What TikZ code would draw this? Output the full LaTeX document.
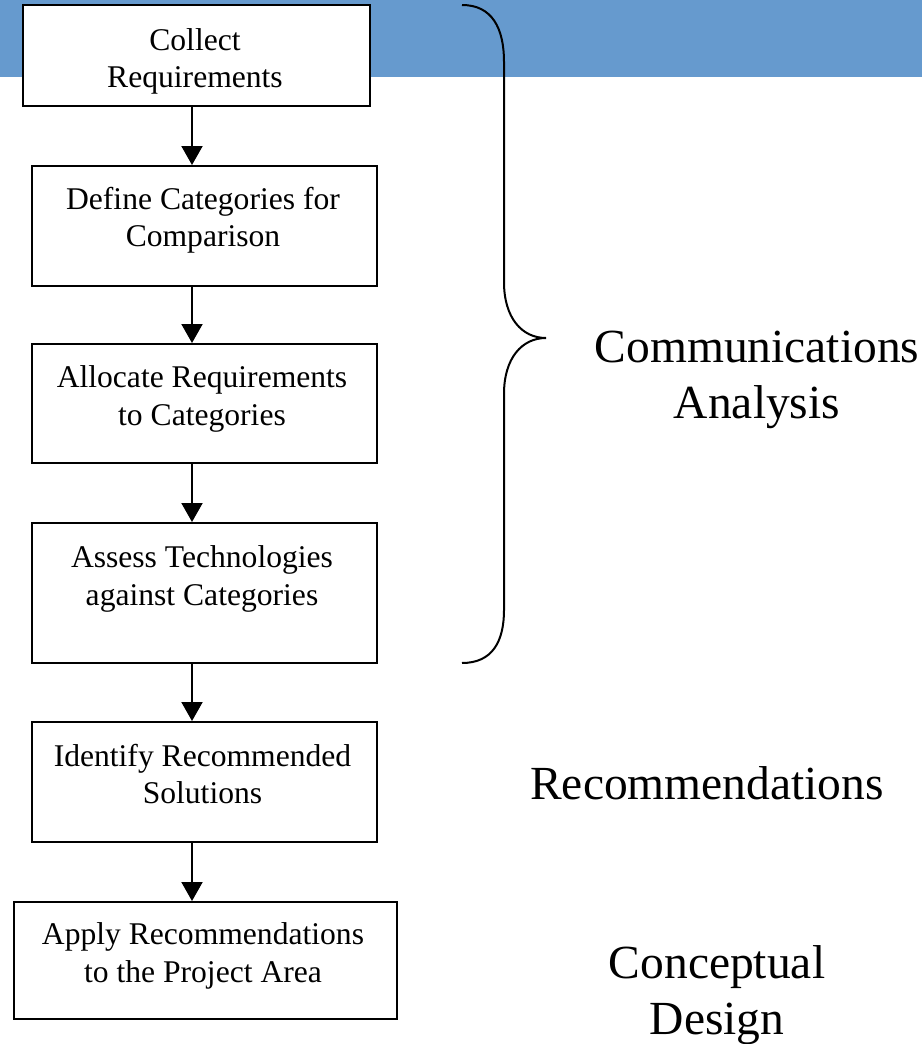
\documentclass[tikz,border=0pt]{standalone}
\usepackage{fontspec}
\setmainfont{Liberation Serif}
\usetikzlibrary{arrows.meta}
\definecolor{bandblue}{RGB}{102,154,206}
\tikzset{
  x=1pt, y=-1pt,
  box/.style={draw=black, line width=2pt, fill=white, inner sep=0pt},
  boxtext/.style={align=center, inner sep=0pt,
    font=\fontsize{31.6pt}{37.5pt}\selectfont},
  phase/.style={align=center, inner sep=0pt,
    font=\fontsize{47.5pt}{56pt}\selectfont},
  flow/.style={line width=2pt, -{Triangle[width=21pt,length=19pt]}},
  brace/.style={line width=2pt}
}
\begin{document}
\begin{tikzpicture}
  \useasboundingbox (0,0) rectangle (922,1044);
  \fill[white] (0,0) rectangle (922,1044);
  % header band
  \fill[bandblue] (0,0) rectangle (922,77);

  % process boxes
  \node[box, minimum width=347pt, minimum height=101pt] (b1) at (196.5,55.5) {};
  \node[box, minimum width=345pt, minimum height=120pt] (b2) at (204.5,226) {};
  \node[box, minimum width=345pt, minimum height=119pt] (b3) at (204.5,403.5) {};
  \node[box, minimum width=345pt, minimum height=140pt] (b4) at (204.5,593) {};
  \node[box, minimum width=345pt, minimum height=120pt] (b5) at (204.5,782) {};
  \node[box, minimum width=383pt, minimum height=117pt] (b6) at (205.5,960.5) {};

  \node[boxtext] (t1) at (195,61.5) {Collect\\Requirements};
  \node[boxtext] (t2) at (203,220) {Define Categories for\\Comparison};
  \node[boxtext] (t3) at (202,399) {Allocate Requirements\\to Categories};
  \node[boxtext] (t4) at (202,579) {Assess Technologies\\against Categories};
  \node[boxtext] (t5) at (202.5,774) {Identify Recommended\\Solutions};
  \node[boxtext] (t6) at (203,956) {Apply Recommendations\\to the Project Area};

  % flow arrows
  \coordinate (ax) at (192,0);
  \draw[flow] (b1.south -| ax) -- (b2.north -| ax);
  \draw[flow] (b2.south -| ax) -- (b3.north -| ax);
  \draw[flow] (b3.south -| ax) -- (b4.north -| ax);
  \draw[flow] (b4.south -| ax) -- (b5.north -| ax);
  \draw[flow] (b5.south -| ax) -- (b6.north -| ax);

  % brace grouping the analysis steps
  \coordinate (btop) at (462,5);
  \coordinate (btip) at (546,338);
  \coordinate (bbot) at (462,663);
  \draw[brace] (btop) .. controls (492,5) and (504,28) .. (504,62)
    -- (504,282) .. controls (504,318) and (522,338) .. (btip)
    .. controls (522,338) and (504,358) .. (504,394)
    -- (504,610) .. controls (504,642) and (492,663) .. (bbot);

  % phase labels
  \node[phase] (l1) at (757,379.5) {Communications\\Analysis};
  \node[phase] (l2) at (707,783) {Recommendations};
  \node[phase] (l3) at (717,995.5) {Conceptual\\Design};
\end{tikzpicture}
\end{document}
